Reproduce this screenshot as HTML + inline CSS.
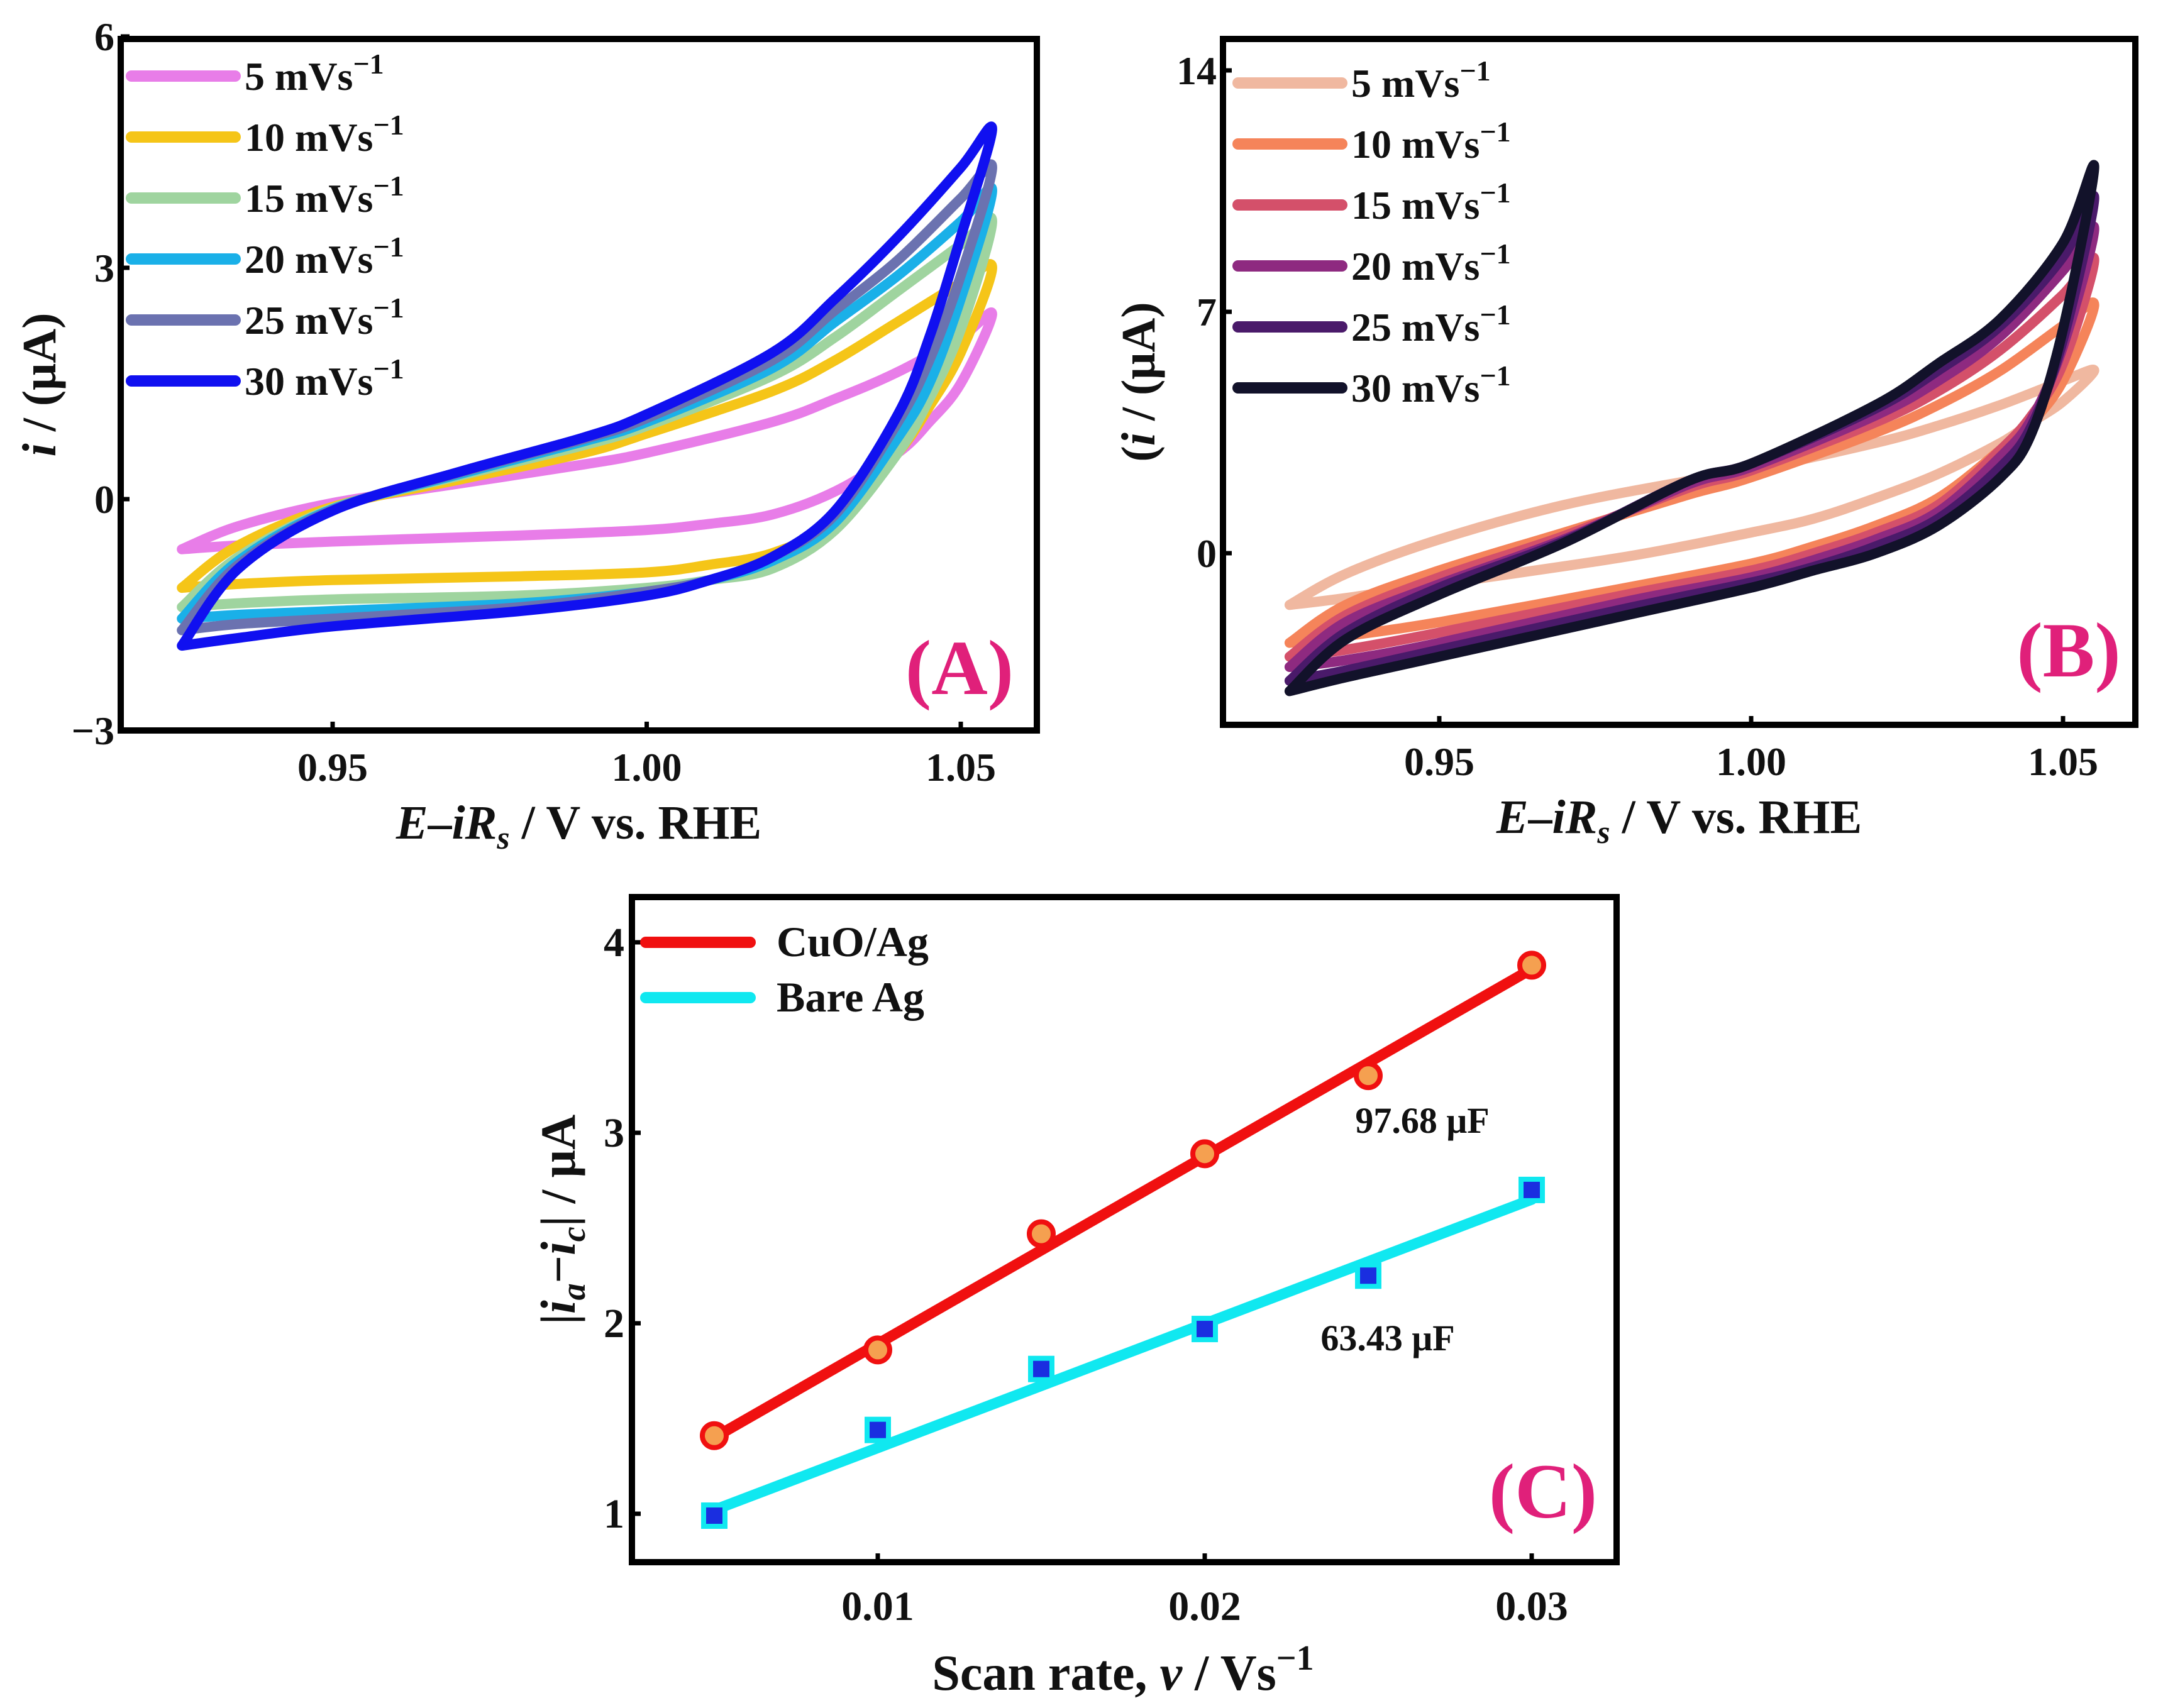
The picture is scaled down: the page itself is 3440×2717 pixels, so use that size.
<!DOCTYPE html>
<html><head><meta charset="utf-8"><style>
html,body{margin:0;padding:0;background:#fff}
svg{display:block}
text{font-family:"Liberation Serif",serif;font-weight:bold;fill:#111}
</style></head><body>
<svg id="fig" width="3440" height="2717" viewBox="0 0 3440 2717" xmlns="http://www.w3.org/2000/svg">
<g id="pa"></g>
<g id="pb"></g>
<g id="pc"></g>
</svg>
<script>
// ---- Panel A / B data ----
const rates = ["5","10","15","20","25","30"];
const xsUp = [0.926,0.935,0.95,0.97,0.99,1.00,1.02,1.03,1.04,1.05,1.055];
const xsDn = [1.055,1.05,1.045,1.04,1.03,1.02,1.01,1.00,0.98,0.95,0.935,0.926];
const aUp = [
 [-0.65,-0.35,-0.05,0.2,0.45,0.6,1.0,1.3,1.65,2.1,2.4],
 [-1.15,-0.6,-0.1,0.25,0.6,0.85,1.4,1.8,2.3,2.8,3.0],
 [-1.4,-0.75,-0.12,0.3,0.7,0.95,1.6,2.1,2.7,3.3,3.6],
 [-1.55,-0.8,-0.13,0.32,0.75,1.0,1.7,2.3,2.9,3.6,4.0],
 [-1.7,-0.85,-0.14,0.34,0.78,1.05,1.8,2.45,3.1,3.9,4.3],
 [-1.9,-0.9,-0.15,0.35,0.8,1.1,1.9,2.6,3.4,4.3,4.8]];
const aDn = [
 [2.4,1.5,1.0,0.6,0.1,-0.2,-0.32,-0.4,-0.47,-0.55,-0.6,-0.65],
 [3.0,1.9,1.2,0.6,-0.3,-0.7,-0.85,-0.95,-1.0,-1.05,-1.1,-1.15],
 [3.6,2.2,1.3,0.6,-0.4,-0.9,-1.05,-1.15,-1.25,-1.3,-1.35,-1.4],
 [4.0,2.6,1.5,0.8,-0.3,-0.8,-1.05,-1.2,-1.35,-1.45,-1.5,-1.55],
 [4.3,2.9,1.8,1.0,-0.2,-0.75,-1.05,-1.2,-1.4,-1.55,-1.62,-1.7],
 [4.8,3.4,2.1,1.1,-0.15,-0.75,-1.05,-1.25,-1.45,-1.65,-1.8,-1.9]];
const bUp = [
 [-1.5,-0.6,0.4,1.4,2.1,2.4,3.2,3.7,4.3,5.0,5.3],
 [-2.6,-1.5,-0.5,0.6,1.7,2.2,3.5,4.3,5.3,6.6,7.2],
 [-3.0,-1.8,-0.7,0.5,1.9,2.4,3.8,4.7,5.9,7.5,8.5],
 [-3.3,-2.0,-0.9,0.4,2.0,2.5,4.0,5.0,6.3,8.2,9.4],
 [-3.7,-2.3,-1.0,0.35,2.1,2.6,4.2,5.3,6.6,8.6,10.3],
 [-4.0,-2.5,-1.2,0.3,2.1,2.6,4.3,5.5,6.8,9.0,11.2]];
const bDn = [
 [5.3,4.4,3.8,3.2,2.3,1.6,1.0,0.6,-0.1,-0.9,-1.3,-1.5],
 [7.2,5.0,3.8,3.0,1.6,0.8,0.2,-0.3,-1.0,-2.0,-2.4,-2.6],
 [8.5,5.5,4.0,3.0,1.4,0.6,0.0,-0.5,-1.2,-2.3,-2.8,-3.0],
 [9.4,6.0,3.9,2.8,1.2,0.4,-0.2,-0.7,-1.4,-2.6,-3.1,-3.3],
 [10.3,6.2,3.7,2.5,1.0,0.2,-0.4,-0.85,-1.6,-2.8,-3.4,-3.7],
 [11.2,6.5,3.5,2.2,0.8,0.0,-0.5,-1.0,-1.8,-3.0,-3.6,-4.0]];
const aColors = ["#e87de8","#f5c518","#9fd49f","#1ab0e8","#6b72b0","#1010f0"];
const bColors = ["#f0b8a0","#f5845a","#d4506a","#8e2a80","#4a1a6a","#12122a"];
const xTicksAB = [0.95,1.00,1.05];
const xTickLabelsAB = ["0.95","1.00","1.05"];
const aYTicks = [-3,0,3,6];
const bYTicks = [0,7,14];
// ---- Panel C data ----
const scanRates = [0.005,0.010,0.015,0.020,0.025,0.030];
const cuoVals = [1.41,1.86,2.47,2.89,3.30,3.88];
const bareVals = [0.99,1.44,1.76,1.97,2.25,2.70];
const cuoFit = [1.40,3.86];
const bareFit = [1.02,2.65];
const cXTicks = [0.01,0.02,0.03];
const cXTickLabels = ["0.01","0.02","0.03"];
const cYTicks = [1,2,3,4];

const NS="http://www.w3.org/2000/svg";
function mk(parent,tag,attrs,txt){const e=document.createElementNS(NS,tag);for(const k in attrs)e.setAttribute(k,attrs[k]);if(txt!==undefined)e.textContent=txt;parent.appendChild(e);return e;}
function lin(d0,d1,r0,r1){return v=>r0+(v-d0)*(r1-r0)/(d1-d0);}
function smooth(pts){let d="M"+pts[0][0]+","+pts[0][1];for(let i=0;i<pts.length-1;i++){const p0=pts[i-1]||pts[i],p1=pts[i],p2=pts[i+1],p3=pts[i+2]||p2;const c1=[p1[0]+(p2[0]-p0[0])/6,p1[1]+(p2[1]-p0[1])/6],c2=[p2[0]-(p3[0]-p1[0])/6,p2[1]-(p3[1]-p1[1])/6];d+=" C"+c1[0].toFixed(1)+","+c1[1].toFixed(1)+" "+c2[0].toFixed(1)+","+c2[1].toFixed(1)+" "+p2[0].toFixed(1)+","+p2[1].toFixed(1);}return d;}

function cvPanel(g,F,up,dn,colors,yTicks,letter,ytitle,legX,legY0){
  const X=lin(0.95,1.05,F.x95,F.x105), Y=lin(0,F.yv,F.y0,F.yvp);
  for(let s=0;s<up.length;s++){
    const pts=xsUp.map((x,i)=>[X(x),Y(up[s][i])]).concat(xsDn.slice(1).map((x,i)=>[X(x),Y(dn[s][i+1])]));
    const p=mk(g,"path",{d:smooth(pts),fill:"none",stroke:colors[s],"stroke-width":16,"stroke-linejoin":"round","stroke-linecap":"round"});
    
    
  }
  const fr=mk(g,"rect",{x:F.l,y:F.t,width:F.r-F.l,height:F.b-F.t,fill:"none",stroke:"#000","stroke-width":10});
  
  xTicksAB.forEach((v,i)=>{
    mk(g,"line",{x1:X(v),x2:X(v),y1:F.b,y2:F.b-14,stroke:"#000","stroke-width":7});
    const t=mk(g,"text",{x:X(v),y:F.b+80,"font-size":64,"text-anchor":"middle"},xTickLabelsAB[i]);
    
  });
  yTicks.forEach(v=>{
    mk(g,"line",{x1:F.l,x2:F.l+14,y1:Y(v),y2:Y(v),stroke:"#000","stroke-width":7});
    const t=mk(g,"text",{x:F.l-10,y:Y(v)+22,"font-size":64,"text-anchor":"end"},v<0?"\u2212"+(-v):String(v));
    
  });
  rates.forEach((r,i)=>{
    const y=legY0+i*97;
    const l=mk(g,"line",{x1:legX,x2:legX+165,y1:y,y2:y,stroke:colors[i],"stroke-width":18,"stroke-linecap":"round"});
    
    const t=mk(g,"text",{x:legX+180,y:y+22,"font-size":64});
    
    t.innerHTML=r+" mVs<tspan dy='-26' font-size='46'>\u22121</tspan>";
  });
  const lt=mk(g,"text",{x:F.letterX,y:F.letterY,"font-size":124,"text-anchor":"middle",style:"fill:#e0207a"},letter);
  
  const xt=mk(g,"text",{x:(F.l+F.r)/2,y:F.b+172,"font-size":76,"text-anchor":"middle"});
  xt.innerHTML="<tspan font-style='italic'>E</tspan>\u2013<tspan font-style='italic'>iR</tspan><tspan font-style='italic' font-size='52' dy='16'>s</tspan><tspan dy='-16'> / V vs. RHE</tspan>";
  
  const yt=mk(g,"text",{x:0,y:0,"font-size":76,"text-anchor":"middle",transform:"translate("+F.ytx+","+((F.t+F.b)/2)+") rotate(-90)"});
  yt.innerHTML=ytitle;
  
}

cvPanel(document.getElementById("pa"),{l:192,t:62,r:1649,b:1162,x95:529,x105:1528,y0:794,yv:3,yvp:426,letterX:1526,letterY:1104,ytx:88},
  aUp,aDn,aColors,aYTicks,"(A)","<tspan font-style='italic'>i</tspan> / (\u03bcA)",209,121);
cvPanel(document.getElementById("pb"),{l:1945,t:62,r:3396,b:1153,x95:2289,x105:3281,y0:880,yv:7,yvp:496,letterX:3290,letterY:1076,ytx:1836},
  bUp,bDn,bColors,bYTicks,"(B)","(<tspan font-style='italic'>i</tspan> / (\u03bcA)",1969,132);

(function(){
  const g=document.getElementById("pc");
  const F={l:1005,t:1427,r:2571,b:2485};
  const X=lin(0.01,0.02,1396,1916), Y=lin(1,4,2408,1499);
  const fits=[[cuoFit,"#f01010","cuo-fit-line"],[bareFit,"#10e8f0","bare-fit-line"]];
  fits.forEach(f=>{
    const l=mk(g,"line",{x1:X(scanRates[0]),x2:X(scanRates[5]),y1:Y(f[0][0]),y2:Y(f[0][1]),stroke:f[1],"stroke-width":17,"stroke-linecap":"round"});
    
  });
  scanRates.forEach((v,i)=>{
    const c=mk(g,"circle",{cx:X(v),cy:Y(cuoVals[i]),r:19,fill:"#f5a050",stroke:"#f01010","stroke-width":8});
    
    const s=mk(g,"rect",{x:X(v)-17,y:Y(bareVals[i])-17,width:34,height:34,fill:"#1a2ee0",stroke:"#10e8f0","stroke-width":8});
    
  });
  const fr=mk(g,"rect",{x:F.l,y:F.t,width:F.r-F.l,height:F.b-F.t,fill:"none",stroke:"#000","stroke-width":10});
  
  cXTicks.forEach((v,i)=>{
    mk(g,"line",{x1:X(v),x2:X(v),y1:F.b,y2:F.b-14,stroke:"#000","stroke-width":7});
    const t=mk(g,"text",{x:X(v),y:F.b+92,"font-size":66,"text-anchor":"middle"},cXTickLabels[i]);
    
  });
  cYTicks.forEach(v=>{
    mk(g,"line",{x1:F.l,x2:F.l+14,y1:Y(v),y2:Y(v),stroke:"#000","stroke-width":7});
    const t=mk(g,"text",{x:F.l-12,y:Y(v)+22,"font-size":66,"text-anchor":"end"},String(v));
    
  });
  [["CuO/Ag","#f01010",1499],["Bare Ag","#10e8f0",1587]].forEach(e=>{
    const l=mk(g,"line",{x1:1027,x2:1193,y1:e[2],y2:e[2],stroke:e[1],"stroke-width":18,"stroke-linecap":"round"});
    
    const t=mk(g,"text",{x:1235,y:e[2]+22,"font-size":68},e[0]);
    
  });
  const a1=mk(g,"text",{x:2262,y:1802,"font-size":58,"text-anchor":"middle"},"97.68 \u03bcF");
  
  const a2=mk(g,"text",{x:2207,y:2148,"font-size":58,"text-anchor":"middle"},"63.43 \u03bcF");
  
  const lt=mk(g,"text",{x:2454,y:2414,"font-size":124,"text-anchor":"middle",style:"fill:#e0207a"},"(C)");
  
  const xt=mk(g,"text",{x:1786,y:2688,"font-size":80,"text-anchor":"middle"});
  xt.innerHTML="Scan rate, <tspan font-style='italic'>v</tspan> / Vs<tspan dy='-32' font-size='56'>\u22121</tspan>";
  
  const yt=mk(g,"text",{x:0,y:0,"font-size":78,"text-anchor":"middle",transform:"translate(914,1940) rotate(-90)"});
  yt.innerHTML="|<tspan font-style='italic'>i</tspan><tspan font-style='italic' font-size='54' dy='16'>a</tspan><tspan dy='-16'>\u2212</tspan><tspan font-style='italic'>i</tspan><tspan font-style='italic' font-size='54' dy='16'>c</tspan><tspan dy='-16'>| / \u03bcA</tspan>";
  
})();
</script>
</body></html>
